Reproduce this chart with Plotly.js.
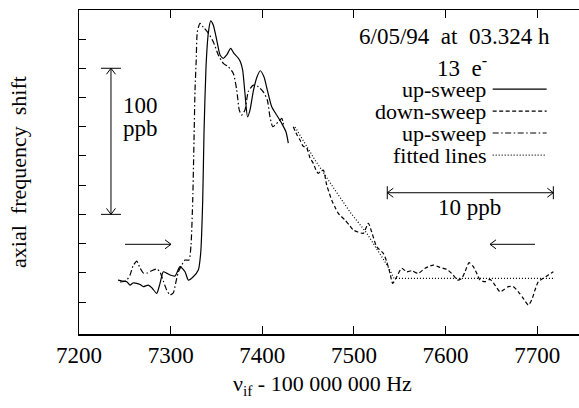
<!DOCTYPE html>
<html>
<head>
<meta charset="utf-8">
<script src="https://cdn.plot.ly/plotly-3.0.1.min.js"></script>
<style>
html,body{margin:0;padding:0;background:#fff;overflow:hidden;}
#chart{width:579px;height:408px;}
</style>
</head>
<body>
<div id="chart"></div>
<script>
// ---- data (frequency offset in Hz, axial shift in ppb, arbitrary zero) ----
const upX = [7242.6,7246.9,7252.1,7255.7,7258.9,7263.0,7266.6,7270.2,7275.6,7279.7,7284.8,7288.4,7292.0,7295.5,7299.3,7304.8,7310.2,7315.7,7319.3,7324.7,7330.2,7332.8,7335.0,7336.4,7338.6,7341.1,7343.7,7346.5,7350.3,7353.9,7357.5,7361.2,7365.5,7369.1,7373.8,7376.2,7378.6,7381.1,7383.9,7386.6,7390.2,7394.2,7397.8,7401.9,7405.5,7410.3,7415.7,7421.2,7425.9,7428.4];
const upY = [35.0,34.4,33.9,31.6,33.0,32.8,32.0,30.5,31.6,29.6,25.9,32.8,40.7,39.8,38.5,37.8,44.2,40.7,35.0,37.3,41.9,53.5,89.8,135.7,181.1,204.1,212.5,209.6,199.3,189.1,186.8,189.1,193.6,190.2,187.0,184.3,178.8,162.8,146.8,151.4,164.4,174.0,178.3,174.0,165.1,153.7,148.0,142.3,136.4,128.8];

const downX = [7433.8,7437.9,7441.2,7444.4,7448.5,7452.1,7455.7,7458.6,7461.1,7464.1,7466.6,7470.3,7475.7,7479.3,7482.9,7490.3,7495.7,7499.3,7504.4,7510.2,7515.7,7519.4,7524.9,7532.1,7535.8,7539.4,7542.3,7546.7,7552.1,7557.6,7563.0,7570.2,7577.6,7586.6,7593.9,7601.2,7608.4,7612.8,7617.6,7621.2,7625.6,7630.3,7634.0,7637.6,7643.0,7648.5,7653.9,7659.4,7663.0,7668.5,7673.9,7679.4,7684.8,7690.3,7694.0,7697.6,7701.2,7706.6,7712.1,7717.6];
const downY = [140.0,134.3,130.9,126.8,125.4,118.6,114.9,110.3,108.1,109.7,110.3,100.1,89.8,85.0,80.7,76.1,72.0,69.3,67.9,67.0,73.9,67.9,57.8,53.3,47.6,39.6,32.8,37.3,43.1,40.7,41.4,39.6,43.1,45.3,43.7,42.4,38.5,35.0,36.2,40.7,46.9,44.2,39.6,35.0,33.9,35.5,31.6,27.0,28.2,30.5,30.5,27.0,22.5,17.9,21.4,28.2,33.9,36.2,38.5,40.7];

const up2X = [7244.7,7251.3,7255.7,7258.9,7263.0,7266.6,7270.2,7274.2,7278.6,7284.8,7288.4,7292.0,7295.7,7299.3,7302.9,7305.5,7308.4,7312.1,7315.7,7320.0,7322.2,7324.1,7325.5,7326.6,7327.9,7329.1,7332.0,7335.6,7341.1,7346.5,7352.0,7357.5,7362.9,7368.4,7372.1,7374.9,7377.5,7381.1,7384.7,7390.2,7395.7,7401.1,7405.5,7408.4,7411.4,7413.9,7417.5,7421.2,7423.7];
const up2Y = [33.7,34.4,38.5,44.6,48.0,43.3,39.8,39.8,41.2,42.6,40.5,34.4,28.2,24.8,26.2,33.0,40.5,45.3,48.7,48.7,59.0,89.8,130.9,165.1,185.6,204.8,210.8,208.2,204.1,198.2,189.1,183.4,181.1,176.5,165.1,151.4,148.0,151.4,163.9,168.5,167.4,163.9,158.3,146.8,140.0,141.1,143.4,145.7,140.0];

const fitX = [7435.7,7457.5,7477.2,7495.7,7513.9,7537.2,7543.7,7719.4];
const fitY = [139.8,117.2,98.7,81.6,67.2,44.2,36.2,36.2];

const xTickVals = [7200,7300,7400,7500,7600,7700];
const yTickVals = [20,40,60,80,100,120,140,160,180,200];

const seriesNames = ["up-sweep","down-sweep","up-sweep","fitted lines"];
const headerText = "6/05/94\u00a0\u00a0at\u00a0\u00a003.324 h";
const electronText = "13\u00a0\u00a0e<sup>-</sup>";
const xTitle = "\u03bd<sub>if</sub> - 100 000 000 Hz";
const yTitle = "axial\u00a0\u00a0frequency\u00a0\u00a0shift";

// ---- styling ----
const FONT = "Liberation Serif, Times New Roman, serif";
const XMIN = 7200, XMAX = 7745.6, YMIN = -1.9, YMAX = 219.9;
const px2x = 1.0912, px2y = 0.6845; // data units per pixel
const dashes = ["solid","4px,2.5px","6px,2.5px,1.5px,2.5px","1px,2px"];
const lw = 1.2;

const traces = [
  {x: upX, y: upY, name: seriesNames[0]},
  {x: downX, y: downY, name: seriesNames[1]},
  {x: up2X, y: up2Y, name: seriesNames[2]},
  {x: fitX, y: fitY, name: seriesNames[3]}
].map((t,i)=>Object.assign(t,{type:"scatter",mode:"lines",showlegend:false,hoverinfo:"skip",
  line:{color:"#000",width:lw,dash:dashes[i],shape:i===3?"linear":"spline",smoothing:0.6}}));

const shapes = [];
const annotations = [];
function seg(x0,y0,x1,y1,w,dash){
  shapes.push({type:"line",xref:"x",yref:"y",x0:x0,y0:y0,x1:x1,y1:y1,
    line:{color:"#000",width:w||1,dash:dash||"solid"}});
}
function label(x,y,text,xanchor,size){
  annotations.push({xref:"x",yref:"y",x:x,y:y,xanchor:xanchor,yanchor:"middle",
    text:text,showarrow:false,align:xanchor==="center"?"center":xanchor,
    font:{family:FONT,size:size,color:"#000"}});
}
// arrowhead: tip, direction unit (in pixels)
function head(tx,ty,dxp,dyp){
  const L=6, H=4.5;
  const bx = -dxp*L, by = -dyp*L;
  const nx = -dyp*H, ny = dxp*H;
  seg(tx,ty,tx+(bx+nx)*px2x,ty+(by+ny)*px2y,1);
  seg(tx,ty,tx+(bx-nx)*px2x,ty+(by-ny)*px2y,1);
}
// vertical 100 ppb bar
const vbX = 7234.9, vbTop = 180, vbBot = 80;
seg(vbX,vbBot,vbX,vbTop,1);
seg(vbX-10*px2x,vbTop,vbX+10*px2x,vbTop,1);
seg(vbX-10*px2x,vbBot,vbX+10*px2x,vbBot,1);
head(vbX,vbTop,0,1); head(vbX,vbBot,0,-1);
label(vbX+10.5*px2x,154.2,"100","left",23);
label(vbX+10.5*px2x,139.1,"ppb","left",23);
// horizontal 10 ppb bar
const hbY = 94.8, hbL = 7536.4, hbR = 7717.6;
seg(hbL,hbY,hbR,hbY,1);
seg(hbL,hbY-6.5*px2y,hbL,hbY+6.5*px2y,1);
seg(hbR,hbY-6.5*px2y,hbR,hbY+6.5*px2y,1);
head(hbL,hbY,-1,0); head(hbR,hbY,1,0);
label(7625.6,85.0,"10 ppb","center",23);
// sweep direction arrows
seg(7250.2,59.5,7300.4,59.5,1); head(7300.4,59.5,1,0);
seg(7648.5,59.5,7697.6,59.5,1); head(7648.5,59.5,-1,0);

// legend block
label(7715.8,202.1,headerText,"right",23);
label(7617.9,181.5,electronText,"center",23);
const rowY = [165.8,150.7,135.7,120.6];
seriesNames.forEach((n,i)=>{
  label(7646.3,rowY[i],n,"right",22);
  seg(7651.4,rowY[i],7710.3,rowY[i],lw,dashes[i]);
});
// x axis title (placed as paper annotation for exact vertical position)
annotations.push({xref:"paper",yref:"paper",x:0.486,y:-0.157,xanchor:"center",yanchor:"middle",
  text:xTitle,showarrow:false,font:{family:FONT,size:22,color:"#000"}});

const axisCommon = {showgrid:false,zeroline:false,ticks:"inside",tickcolor:"#000",
  tickfont:{family:FONT,size:23,color:"#000"},linecolor:"#000",linewidth:1.5};

const layout = {
  width:579,height:408,
  margin:{l:79,r:0,t:10,b:74},
  paper_bgcolor:"#fff",plot_bgcolor:"#fff",
  font:{family:FONT,color:"#000"},
  showlegend:false,
  xaxis:Object.assign({},axisCommon,{range:[XMIN,XMAX],tickvals:xTickVals,ticklen:8,
    showline:true,mirror:"ticks"}),
  yaxis:Object.assign({},axisCommon,{range:[YMIN,YMAX],tickvals:yTickVals,ticklen:7,
    showline:true,mirror:false,showticklabels:false,
    title:{text:yTitle,font:{family:FONT,size:22,color:"#000"},standoff:45}}),
  yaxis2:Object.assign({},axisCommon,{range:[YMIN,YMAX],tickvals:yTickVals,ticklen:7,
    overlaying:"y",side:"right",showline:false,showticklabels:false}),
  shapes:shapes,
  annotations:annotations
};
layout.xaxis.automargin=false; layout.yaxis.automargin=false;

Plotly.newPlot("chart",traces,layout,{staticPlot:true,displayModeBar:false});
</script>
</body>
</html>
